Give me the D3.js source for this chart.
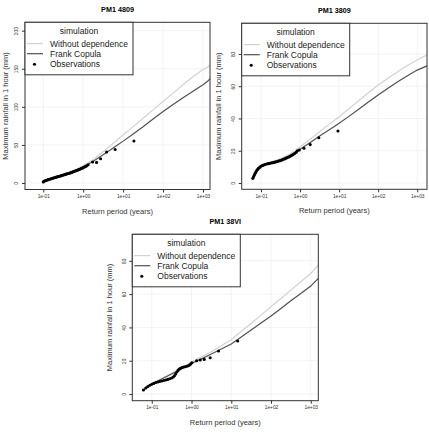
<!DOCTYPE html>
<meta charset="utf-8">
<style>
body {
  margin: 0;
  background: #fff;
  font-family: 'Liberation Sans', Arial, sans-serif;
}
.grid line { stroke: #ebebeb; stroke-width: 0.6; }
</style>
<svg width="429" height="432"></svg>
<script src="https://d3js.org/d3.v7.min.js"></script>
<script>
// axis ticks
var xTicks = [0.1, 1, 10, 100, 1000],
    xTickLabels = ["1e-01", "1e+00", "1e+01", "1e+02", "1e+03"],
    yTicks4809 = [0, 50, 100, 150, 200],
    yTicks3809 = [0, 20, 40, 60, 80],
    yTicks38VI = [0, 20, 40, 60, 80];

var legendTitle = "simulation",
    seriesNames = ["Without dependence", "Frank Copula", "Observations"];

// ---- PM1 4809 ----
var curveT4809 = [0.1, 0.178, 0.316, 0.562, 1, 1.78, 3.16, 5.62, 10, 17.8, 31.6, 56.2, 100, 178, 316, 562, 1000, 1300, 1510];
var indep4809  = [2, 6.5, 10.5, 16, 23, 31, 41, 52, 63, 74, 85, 96, 107, 118, 129, 139.5, 149, 152, 155];
var frank4809  = [2, 6.3, 10.2, 15, 21, 28.5, 37, 46, 55, 64.5, 74, 84, 94, 103, 112, 120.5, 129, 133.5, 137];
var obsT4809 = [0.100, 0.106, 0.112, 0.119, 0.126, 0.133, 0.141, 0.150, 0.158, 0.168, 0.178, 0.188, 0.200, 0.211,
                0.224, 0.237, 0.251, 0.266, 0.282, 0.299, 0.316, 0.335, 0.355, 0.376, 0.398, 0.422, 0.447, 0.473,
                0.501, 0.531, 0.562, 0.596, 0.631, 0.668, 0.708, 0.750, 0.794, 0.841, 0.891, 0.944, 1.00, 1.07,
                1.15, 1.23, 1.33, 1.72, 2.16, 2.72, 3.85, 6.31, 18.6];
var obsV4809 = [1.5, 2.5, 3.0, 3.5, 4.0, 4.5, 5.0, 5.3, 5.7, 6.1, 6.5, 6.9, 7.3, 7.7,
                8.1, 8.5, 8.9, 9.3, 9.7, 10.1, 10.5, 10.9, 11.3, 11.7, 12.1, 12.5, 12.9, 13.3,
                13.8, 14.3, 14.8, 15.3, 15.8, 16.3, 16.8, 17.3, 17.8, 18.4, 19.0, 19.6, 20.2, 21.0,
                21.8, 22.6, 24.0, 27.7, 27.1, 31.9, 40.7, 44.1, 55.1];

// ---- PM1 3809 ----
var curveT3809 = [0.0617, 0.0794, 0.1, 0.178, 0.316, 0.562, 1, 1.78, 3.16, 5.62, 10, 17.8, 31.6, 56.2, 100, 178, 316, 562, 1000, 1780];
var indep3809  = [2.9, 8.2, 10.5, 13, 15.2, 18, 22.5, 27, 31.8, 36.5, 41.1, 46, 51, 56, 60.8, 65, 69, 72.8, 76.3, 79.4];
var frank3809  = [2.9, 8.0, 10.3, 12.8, 14.6, 17.2, 20.9, 25, 29.1, 33, 37, 41.3, 45.7, 50.2, 54.6, 58.8, 62.8, 66.5, 70, 72.6];
var obsT3809 = [0.0617, 0.0646, 0.0676, 0.0708, 0.0741, 0.0776, 0.0813, 0.0851, 0.0891, 0.0955, 0.102, 0.110,
                0.117, 0.126, 0.138, 0.151, 0.166, 0.182, 0.200, 0.219, 0.240, 0.263, 0.288, 0.316, 0.347,
                0.380, 0.417, 0.457, 0.501, 0.550, 0.603, 0.661, 0.724, 0.794, 0.851, 0.955, 1.26, 1.82,
                3.02, 9.33];
var obsV3809 = [2.9, 4.0, 5.0, 6.0, 7.0, 7.8, 8.4, 9.0, 9.4, 10.0, 10.5, 10.9,
                11.2, 11.5, 11.8, 12.0, 12.2, 12.4, 12.6, 12.8, 13.0, 13.3, 13.6, 13.9, 14.3,
                14.7, 15.1, 15.6, 16.0, 16.5, 17.1, 17.6, 18.3, 19.0, 20.0, 20.5, 21.5, 23.8,
                28.1, 32.2];

// ---- PM1 38VI ----
var curveT38VI = [0.0617, 0.1, 0.178, 0.316, 0.562, 1, 1.78, 3.16, 5.62, 10, 17.8, 31.6, 56.2, 100, 178, 316, 562, 1000, 1550];
var indep38VI  = [2.4, 6.2, 9.5, 12.5, 15.8, 19.4, 22.3, 25.4, 29, 32.8, 37.5, 42.4, 47.4, 52.4, 57.4, 62.4, 67.4, 72.4, 77.4];
var frank38VI  = [2.4, 6.0, 9.0, 12, 15.0, 18.4, 21.1, 24.0, 27, 30, 34.2, 38.4, 42.6, 46.8, 51.4, 56, 60.4, 64.8, 69.4];
var obsT38VI = [0.0617, 0.0708, 0.0794, 0.0891, 0.100, 0.112, 0.126, 0.141, 0.158, 0.178, 0.200, 0.224,
                0.251, 0.282, 0.316, 0.347, 0.372, 0.398, 0.427, 0.457, 0.490, 0.525, 0.575, 0.631,
                0.692, 0.759, 0.832, 0.891, 0.955, 1.02, 1.35, 1.66, 2.09, 2.95, 4.79, 14.5];
var obsV38VI = [2.4, 3.6, 4.5, 5.3, 5.9, 6.4, 6.9, 7.2, 7.5, 7.8, 8.1, 8.4,
                8.8, 9.2, 9.6, 10.2, 11.0, 12.0, 13.2, 14.2, 15.0, 15.5, 15.9, 16.2,
                16.4, 16.7, 17.0, 17.4, 18.0, 18.8, 20.0, 20.4, 20.8, 21.8, 25.8, 31.8];

var svg = d3.select("svg");

var lightCol = "#d2d2d2",
    darkCol = "#505050";

function drawPanel(p) {
  var w = p.right - p.left,
      h = p.bottom - p.top;

  var x = d3.scaleLog().domain(p.xDomain).range([p.left, p.right]);
  var y = d3.scaleLinear().domain(p.yDomain).range([p.bottom, p.top]);

  var g = svg.append("g");

  // grid
  var grid = g.append("g").attr("class", "grid");
  grid.selectAll(".gx").data(xTicks).enter().append("line")
      .attr("x1", x).attr("x2", x)
      .attr("y1", p.top).attr("y2", p.bottom);
  grid.selectAll(".gy").data(p.yTicks).enter().append("line")
      .attr("x1", p.left).attr("x2", p.right)
      .attr("y1", y).attr("y2", y);

  // simulated curves
  var line = d3.line()
      .x(function(d) { return x(d[0]); })
      .y(function(d) { return y(d[1]); });

  g.append("path")
      .datum(d3.zip(p.curveT, p.indep))
      .attr("fill", "none")
      .attr("stroke", lightCol)
      .attr("stroke-width", 1.2)
      .attr("d", line);

  g.append("path")
      .datum(d3.zip(p.curveT, p.frank))
      .attr("fill", "none")
      .attr("stroke", darkCol)
      .attr("stroke-width", 1.2)
      .attr("d", line);

  // observations
  g.append("g").selectAll("circle")
      .data(d3.zip(p.obsT, p.obsV))
      .enter().append("circle")
      .attr("cx", function(d) { return x(d[0]); })
      .attr("cy", function(d) { return y(d[1]); })
      .attr("r", 1.55)
      .attr("fill", "#000");

  // box
  g.append("rect")
      .attr("x", p.left).attr("y", p.top)
      .attr("width", w).attr("height", h)
      .attr("fill", "none")
      .attr("stroke", "#333")
      .attr("stroke-width", 1);

  // x axis
  var xa = g.append("g")
      .attr("transform", "translate(0," + p.bottom + ")")
      .call(d3.axisBottom(x).tickValues(xTicks).tickSize(3).tickPadding(2)
        .tickFormat(function(d, i) { return xTickLabels[i]; }));
  xa.select(".domain").remove();
  xa.selectAll("line").attr("stroke", "#333");
  xa.selectAll("text").attr("font-size", "4.8px").attr("fill", "#333")
      .attr("font-family", "'Liberation Sans', Arial, sans-serif");

  // y axis
  var ya = g.append("g")
      .attr("transform", "translate(" + p.left + ",0)")
      .call(d3.axisLeft(y).tickValues(p.yTicks).tickSize(3));
  ya.select(".domain").remove();
  ya.selectAll("line").attr("stroke", "#333");
  ya.selectAll("text")
      .attr("font-size", "4.8px").attr("fill", "#333")
      .attr("font-family", "'Liberation Sans', Arial, sans-serif")
      .attr("x", null)
      .attr("text-anchor", "middle")
      .attr("transform", "translate(-8.3,0) rotate(-90)")
      .attr("dy", "0.35em");

  // titles
  g.append("text")
      .attr("x", (p.left + p.right) / 2).attr("y", p.top - 10)
      .attr("text-anchor", "middle")
      .attr("font-size", "7.2px").attr("font-weight", "bold")
      .attr("fill", "#000")
      .text(p.title);

  g.append("text")
      .attr("x", (p.left + p.right) / 2).attr("y", p.bottom + 24)
      .attr("text-anchor", "middle")
      .attr("font-size", "7.5px").attr("fill", "#333")
      .text("Return period (years)");

  g.append("text")
      .attr("transform", "translate(" + (p.left - p.ylab) + "," + ((p.top + p.bottom) / 2) + ") rotate(-90)")
      .attr("text-anchor", "middle")
      .attr("dy", "0.35em")
      .attr("font-size", "7.5px").attr("fill", "#333")
      .text("Maximum rainfall in 1 hour (mm)");

  // legend
  var lg = g.append("g").attr("transform", "translate(" + p.left + "," + p.top + ")");
  lg.append("rect")
      .attr("width", 108).attr("height", 52.5)
      .attr("fill", "#fff").attr("stroke", "#333").attr("stroke-width", 1);
  lg.append("text")
      .attr("x", 54).attr("y", 8.3).attr("dy", "0.35em")
      .attr("text-anchor", "middle")
      .attr("font-size", "8.5px").attr("fill", "#222")
      .text(legendTitle);

  var rows = lg.selectAll(".row").data(seriesNames).enter().append("g")
      .attr("transform", function(d, i) { return "translate(0," + [21.3, 31.4, 42][i] + ")"; });
  rows.filter(function(d, i) { return i < 2; }).append("line")
      .attr("x1", 2).attr("x2", 18)
      .attr("stroke", function(d, i) { return i == 0 ? lightCol : darkCol; })
      .attr("stroke-width", 1.2);
  rows.filter(function(d, i) { return i == 2; }).append("circle")
      .attr("cx", 9.5).attr("r", 1.55).attr("fill", "#000");
  rows.append("text")
      .attr("x", 25).attr("dy", "0.35em")
      .attr("font-size", "8.5px").attr("fill", "#222")
      .text(function(d) { return d; });
}

drawPanel({
  title: "PM1 4809", left: 25, right: 210, top: 22.3, bottom: 189.5, ylab: 20,
  xDomain: [Math.pow(10, -1.458), Math.pow(10, 3.175)], yDomain: [-8.5, 211], yTicks: yTicks4809,
  curveT: curveT4809, indep: indep4809, frank: frank4809, obsT: obsT4809, obsV: obsV4809
});

drawPanel({
  title: "PM1 3809", left: 241.7, right: 427, top: 23.3, bottom: 189.3, ylab: 23.7,
  xDomain: [Math.pow(10, -1.495), Math.pow(10, 3.25)], yDomain: [-3.9, 99], yTicks: yTicks3809,
  curveT: curveT3809, indep: indep3809, frank: frank3809, obsT: obsT3809, obsV: obsV3809
});

drawPanel({
  title: "PM1 38VI", left: 132.3, right: 318.3, top: 234.3, bottom: 400.7, ylab: 23,
  xDomain: [Math.pow(10, -1.49), Math.pow(10, 3.19)], yDomain: [-4, 95.9], yTicks: yTicks38VI,
  curveT: curveT38VI, indep: indep38VI, frank: frank38VI, obsT: obsT38VI, obsV: obsV38VI
});
</script>
